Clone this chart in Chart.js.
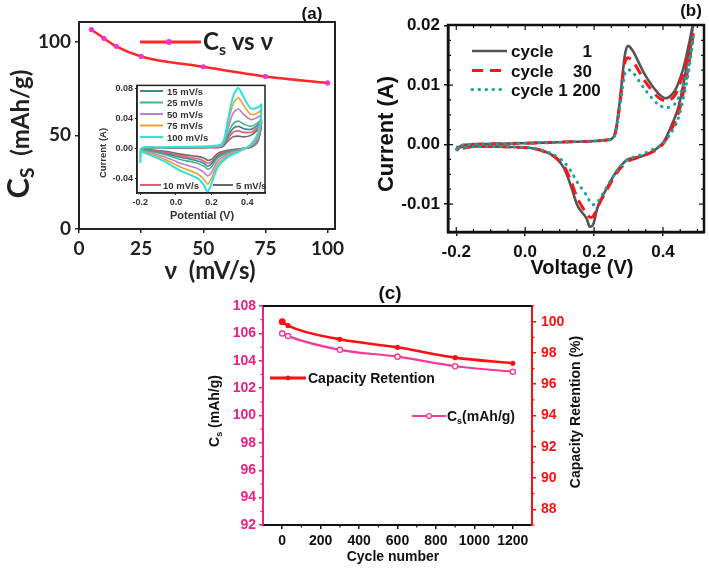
<!DOCTYPE html>
<html><head><meta charset="utf-8">
<script src="https://cdn.jsdelivr.net/npm/chart.js@4.4.1/dist/chart.umd.min.js"></script>
<style>
html,body{margin:0;padding:0;background:#fff;}
body{width:709px;height:569px;position:relative;overflow:hidden;}
canvas{position:absolute;display:block;}
</style></head><body>
<canvas id="ca" width="355" height="290" style="left:0;top:0"></canvas>
<canvas id="cb" width="354" height="290" style="left:355px;top:0"></canvas>
<canvas id="cc" width="509" height="289" style="left:200px;top:280px"></canvas>
<canvas id="ci" width="180" height="150" style="left:90px;top:78px"></canvas>
<script>
// ---------- Panel (a): specific capacity vs scan rate ----------
const scanRates = [5, 10, 15, 25, 50, 75, 100];
const capacityVsRate = [106.4, 101.8, 97.5, 92.1, 86.6, 81.4, 78.0];
const rateTicks = [0, 25, 50, 75, 100];
const capTicks = [0, 50, 100];

// ---------- Inset: CV at several scan rates ----------
const insetPotential = [-0.2, -0.19, -0.1, 0.0, 0.1, 0.2, 0.26, 0.29, 0.32, 0.35, 0.38, 0.42, 0.46, 0.48, 0.46, 0.42, 0.36, 0.29, 0.235, 0.2, 0.178, 0.156, 0.12, 0.025, -0.07, -0.2];
const insetI100 = [-0.020, 0.000, 0.001, 0.0015, 0.002, 0.003, 0.006, 0.035, 0.068, 0.080, 0.068, 0.053, 0.054, 0.058, 0.020, 0.005, -0.004, -0.012, -0.025, -0.047, -0.058, -0.049, -0.040, -0.030, -0.017, -0.004];
const insetI75 = [-0.016, 0.000, 0.001, 0.0012, 0.0015, 0.0025, 0.005, 0.030, 0.058, 0.067, 0.057, 0.045, 0.047, 0.051, 0.017, 0.004, -0.003, -0.010, -0.021, -0.040, -0.048, -0.041, -0.034, -0.025, -0.014, -0.003];
const insetI50 = [-0.012, 0.000, 0.0008, 0.001, 0.0012, 0.002, 0.004, 0.024, 0.046, 0.052, 0.045, 0.038, 0.041, 0.045, 0.014, 0.003, -0.002, -0.008, -0.017, -0.032, -0.037, -0.032, -0.027, -0.020, -0.011, -0.003];
const insetI25 = [-0.008, 0.000, 0.0006, 0.0008, 0.001, 0.0015, 0.003, 0.018, 0.032, 0.036, 0.032, 0.029, 0.034, 0.039, 0.012, 0.002, -0.002, -0.006, -0.013, -0.025, -0.028, -0.024, -0.020, -0.015, -0.008, -0.002];
const insetI15 = [-0.006, 0.000, 0.0005, 0.0006, 0.0008, 0.0012, 0.0025, 0.015, 0.026, 0.029, 0.026, 0.025, 0.031, 0.037, 0.011, 0.002, -0.001, -0.005, -0.011, -0.021, -0.024, -0.020, -0.017, -0.012, -0.007, -0.002];
const insetI10 = [-0.004, 0.000, 0.0004, 0.0005, 0.0006, 0.001, 0.002, 0.012, 0.021, 0.023, 0.021, 0.021, 0.028, 0.035, 0.010, 0.001, -0.001, -0.004, -0.009, -0.018, -0.020, -0.017, -0.014, -0.010, -0.005, -0.001];
const insetI5 = [-0.003, 0.000, 0.0003, 0.0004, 0.0005, 0.0008, 0.0015, 0.009, 0.015, 0.016, 0.015, 0.017, 0.025, 0.033, 0.009, 0.001, -0.001, -0.003, -0.007, -0.015, -0.016, -0.013, -0.011, -0.008, -0.004, -0.001];
const insetPotTicks = [-0.2, 0.0, 0.2, 0.4];
const insetCurTicks = [-0.04, 0.0, 0.04, 0.08];

// ---------- Panel (b): CV cycling ----------
const cvVoltage = [-0.2, -0.18, -0.04, 0.1, 0.245, 0.26, 0.274, 0.289, 0.298, 0.313, 0.347, 0.385, 0.41, 0.434, 0.458, 0.475, 0.488,
  0.475, 0.458, 0.443, 0.424, 0.4, 0.371, 0.337, 0.298, 0.269, 0.24, 0.211, 0.197, 0.187, 0.178, 0.153, 0.133, 0.11, 0.076, 0.027, -0.04, -0.137, -0.2];
const cycle1Current = [-0.001, -0.0001, 0.00017, 0.0004, 0.0008, 0.0017, 0.007, 0.0149, 0.0166, 0.0157, 0.0118, 0.0087, 0.0078, 0.009, 0.0126, 0.0168, 0.0205,
  0.0155, 0.0098, 0.0059, 0.0031, 0.0003, -0.0011, -0.002, -0.0025, -0.0042, -0.007, -0.0104, -0.0135, -0.0138, -0.0124, -0.0104, -0.007, -0.0037, -0.0017, -0.0007, -0.0004, -0.0003, -0.0004];
const cycle30Current = [-0.001, -0.0001, 0.00017, 0.0004, 0.0008, 0.0016, 0.0065, 0.0138, 0.0146, 0.014, 0.0107, 0.008, 0.0073, 0.0082, 0.0118, 0.0152, 0.0188,
  0.0135, 0.0085, 0.005, 0.0025, 0.0001, -0.0012, -0.002, -0.0028, -0.0045, -0.0073, -0.0104, -0.0121, -0.0122, -0.0116, -0.0092, -0.0062, -0.0034, -0.0017, -0.0007, -0.0004, -0.0003, -0.0008];
const cycle1200Current = [-0.0008, -0.0001, 0.00017, 0.0004, 0.0008, 0.0015, 0.006, 0.0118, 0.0126, 0.0121, 0.0093, 0.0068, 0.0062, 0.0068, 0.0098, 0.0135, 0.0182,
  0.0125, 0.0075, 0.0042, 0.002, 0.0002, -0.0008, -0.0017, -0.0025, -0.0042, -0.0068, -0.0096, -0.0101, -0.0095, -0.0085, -0.0065, -0.0045, -0.0028, -0.0015, -0.0006, -0.0004, -0.0003, -0.0006];
const voltTicks = [-0.2, 0.0, 0.2, 0.4];
const currentTicks = [-0.01, 0.0, 0.01, 0.02];

// ---------- Panel (c): cycling stability ----------
const cycleNumbers = [0, 30, 300, 600, 900, 1200];
const specificCapacity = [106.0, 105.8, 104.8, 104.3, 103.6, 103.2];
const capacityRetention = [100.0, 99.75, 98.87, 98.36, 97.7, 97.34];
const cycleTicks = [0, 200, 400, 600, 800, 1000, 1200];
const csTicks = [92, 94, 96, 98, 100, 102, 104, 106, 108];
const retentionTicks = [88, 90, 92, 94, 96, 98, 100];

// ---------- helpers ----------
const pts = (xs, ys) => xs.map((x, i) => ({x: x, y: ys[i]}));
const setTicks = arr => (s => { s.ticks = arr.map(v => ({value: v})); });

function rich(ctx, x, y, parts, o) {
  o = o || {};
  ctx.save();
  ctx.translate(x, y);
  if (o.rotate) ctx.rotate(o.rotate);
  ctx.fillStyle = o.color || '#000';
  ctx.textBaseline = 'alphabetic';
  ctx.textAlign = 'left';
  let total = 0;
  parts.forEach(p => { ctx.font = p.f; p.w = ctx.measureText(p.t).width; total += p.w; });
  let cx = o.align === 'center' ? -total / 2 : (o.align === 'right' ? -total : 0);
  parts.forEach(p => { ctx.font = p.f; ctx.fillText(p.t, cx, p.dy || 0); cx += p.w; });
  ctx.restore();
}
function line(ctx, x1, y1, x2, y2, color, w, dash, cap) {
  ctx.save(); ctx.strokeStyle = color; ctx.lineWidth = w; ctx.setLineDash(dash || []);
  ctx.lineCap = cap || 'butt';
  ctx.beginPath(); ctx.moveTo(x1, y1); ctx.lineTo(x2, y2); ctx.stroke(); ctx.restore();
}
function dot(ctx, x, y, r, fill, stroke, w) {
  ctx.save(); ctx.beginPath(); ctx.arc(x, y, r, 0, Math.PI * 2);
  ctx.fillStyle = fill; ctx.fill();
  if (stroke) { ctx.strokeStyle = stroke; ctx.lineWidth = w || 1; ctx.stroke(); }
  ctx.restore();
}
const frame = (color, w) => ({
  id: 'frame',
  afterDraw(chart) {
    const a = chart.chartArea, ctx = chart.ctx;
    ctx.save(); ctx.strokeStyle = color; ctx.lineWidth = w;
    ctx.strokeRect(a.left, a.top, a.right - a.left, a.bottom - a.top);
    ctx.restore();
  }
});
const base = {responsive: false, animation: false, events: [], plugins: {legend: {display: false}, tooltip: {enabled: false}}};

// ================= Panel (a) =================
const LATO = 'Lato, "Open Sans", sans-serif';
const ARIAL = '"Liberation Sans", Arial, sans-serif';
new Chart(document.getElementById('ca'), {
  type: 'line',
  data: {datasets: [{
    data: pts(scanRates, capacityVsRate),
    borderColor: '#ff2828', borderWidth: 2.5,
    pointRadius: 2.6, pointBackgroundColor: '#ff33cc', pointBorderColor: '#ff33cc', pointBorderWidth: 0,
    cubicInterpolationMode: 'monotone'
  }]},
  options: Object.assign({}, base, {
    layout: {padding: {top: 22, right: 20, left: 0, bottom: 0}},
    scales: {
      x: {type: 'linear', min: 0, max: 103, afterBuildTicks: setTicks(rateTicks), afterFit: s => { s.height = 61; },
        grid: {drawOnChartArea: false, tickLength: 4, color: '#222', lineWidth: 1.5},
        border: {display: true, color: '#222', width: 2},
        ticks: {font: {family: LATO, size: 19, weight: 'bold'}, color: '#222', padding: 4, maxRotation: 0}},
      y: {type: 'linear', min: 0, max: 110.5, afterBuildTicks: setTicks(capTicks), afterFit: s => { s.width = 79; },
        grid: {drawOnChartArea: false, tickLength: 4, color: '#222', lineWidth: 1.5},
        border: {display: true, color: '#222', width: 2},
        ticks: {font: {family: LATO, size: 19, weight: 'bold'}, color: '#222', padding: 4}}
    }
  }),
  plugins: [frame('#222', 2), {
    id: 'textsA',
    afterDraw(chart) {
      const ctx = chart.ctx;
      rich(ctx, 29, 134, [
        {t: 'C', f: 'bold 31px ' + LATO},
        {t: 'S', f: 'bold 19px ' + LATO, dy: 5},
        {t: '  (mAh/g)', f: 'bold 24px ' + LATO}
      ], {rotate: -Math.PI / 2, align: 'center', color: '#222'});
      rich(ctx, 210, 279, [{t: 'ν  (mV/s)', f: 'bold 24px ' + LATO}], {align: 'center', color: '#222'});
      line(ctx, 140, 42, 201, 42, '#ff2828', 3);
      dot(ctx, 169, 42, 3, '#ff33cc');
      rich(ctx, 203, 50, [
        {t: 'C', f: 'bold 24px ' + LATO},
        {t: 's', f: 'bold 16px ' + LATO, dy: 5},
        {t: ' vs ν', f: 'bold 24px ' + LATO}
      ], {color: '#222'});
      rich(ctx, 312, 19, [{t: '(a)', f: 'bold 17px ' + ARIAL}], {align: 'center', color: '#111'});
    }
  }]
});

// ================= Inset =================
const insetSeries = [
  {d: insetI100, c: '#2ee0e0', w: 2},
  {d: insetI75, c: '#e8a52a', w: 1.6},
  {d: insetI50, c: '#c07ad8', w: 1.6},
  {d: insetI25, c: '#3fb58f', w: 1.6},
  {d: insetI15, c: '#3a8a8c', w: 1.6},
  {d: insetI10, c: '#f2566e', w: 1.6},
  {d: insetI5, c: '#6a6a6a', w: 1.6}
];
new Chart(document.getElementById('ci'), {
  type: 'scatter',
  data: {datasets: insetSeries.map(s => ({
    data: pts(insetPotential, s.d), showLine: true, borderColor: s.c, borderWidth: s.w,
    pointRadius: 0, tension: 0.3
  }))},
  options: Object.assign({}, base, {
    layout: {padding: {top: 4, right: 5, left: 0, bottom: 0}},
    scales: {
      x: {type: 'linear', min: -0.2185, max: 0.5, afterBuildTicks: setTicks(insetPotTicks), afterFit: s => { s.height = 35; },
        grid: {drawOnChartArea: false, tickLength: 2, color: '#222'},
        border: {display: true, color: '#222', width: 1.5},
        ticks: {font: {family: ARIAL, size: 9, weight: 'bold'}, color: '#333', padding: 2, maxRotation: 0, callback: v => v.toFixed(1)}},
      y: {type: 'linear', min: -0.0597, max: 0.0835, afterBuildTicks: setTicks(insetCurTicks), afterFit: s => { s.width = 47; },
        grid: {drawOnChartArea: false, tickLength: 2, color: '#222'},
        border: {display: true, color: '#222', width: 1.5},
        ticks: {font: {family: ARIAL, size: 9, weight: 'bold'}, color: '#333', padding: 2, callback: v => v.toFixed(2)}}
    }
  }),
  plugins: [frame('#222', 1.5), {
    id: 'textsI',
    afterDraw(chart) {
      const ctx = chart.ctx;
      ctx.save(); ctx.translate(-90, -78);
      rich(ctx, 106, 153, [{t: 'Current (A)', f: 'bold 9.5px ' + ARIAL}], {rotate: -Math.PI / 2, align: 'center', color: '#333'});
      rich(ctx, 202, 219, [{t: 'Potential (V)', f: 'bold 11px ' + ARIAL}], {align: 'center', color: '#333'});
      const rows = [[91, '15 mV/s', '#3a8a8c'], [102.5, '25 mV/s', '#3fb58f'], [114, '50 mV/s', '#c07ad8'], [125.5, '75 mV/s', '#e8a52a'], [137, '100 mV/s', '#2ee0e0']];
      rows.forEach(r => {
        line(ctx, 140, r[0], 163, r[0], r[2], 2);
        rich(ctx, 167, r[0] + 3.5, [{t: r[1], f: 'bold 9.5px ' + ARIAL}], {color: '#333'});
      });
      line(ctx, 140, 185, 161, 185, '#f2566e', 2);
      rich(ctx, 163, 188.5, [{t: '10 mV/s', f: 'bold 9.5px ' + ARIAL}], {color: '#333'});
      line(ctx, 213, 185, 233, 185, '#6a6a6a', 2);
      rich(ctx, 236, 188.5, [{t: '5 mV/s', f: 'bold 9.5px ' + ARIAL}], {color: '#333'});
      ctx.restore();
    }
  }]
});

// ================= Panel (b) =================
new Chart(document.getElementById('cb'), {
  type: 'scatter',
  data: {datasets: [
    {data: pts(cvVoltage, cycle1200Current), showLine: true, borderColor: '#17a3a3', borderWidth: 3, borderDash: [0.5, 6.5], borderCapStyle: 'round', pointRadius: 0, tension: 0.3},
    {data: pts(cvVoltage, cycle30Current), showLine: true, borderColor: '#ff1414', borderWidth: 3, borderDash: [11, 7], pointRadius: 0, tension: 0.3},
    {data: pts(cvVoltage, cycle1Current), showLine: true, borderColor: '#555555', borderWidth: 2.6, pointRadius: 0, tension: 0.3}
  ]},
  options: Object.assign({}, base, {
    layout: {padding: {top: 25, right: 5, left: 0, bottom: 0}},
    scales: {
      x: {type: 'linear', min: -0.224, max: 0.519, afterBuildTicks: setTicks(voltTicks), afterFit: s => { s.height = 58; },
        grid: {drawOnChartArea: false, tickLength: 4, color: '#111', lineWidth: 1.5},
        border: {display: true, color: '#111', width: 2.5},
        ticks: {font: {family: ARIAL, size: 17, weight: 'bold'}, color: '#111', padding: 6, maxRotation: 0, callback: v => v.toFixed(1)}},
      y: {type: 'linear', min: -0.0147, max: 0.0201, afterBuildTicks: setTicks(currentTicks), afterFit: s => { s.width = 93; },
        grid: {drawOnChartArea: false, tickLength: 4, color: '#111', lineWidth: 1.5},
        border: {display: true, color: '#111', width: 2.5},
        ticks: {font: {family: ARIAL, size: 17, weight: 'bold'}, color: '#111', padding: 4, callback: v => v.toFixed(2)}}
    }
  }),
  plugins: [frame('#111', 2.5), {
    id: 'textsB',
    afterDraw(chart) {
      const ctx = chart.ctx, a = chart.chartArea, sx = chart.scales.x, sy = chart.scales.y;
      ctx.save(); ctx.strokeStyle = '#111'; ctx.lineWidth = 1.2; ctx.beginPath();
      for (let k = -4; k <= 10; k++) {
        const v = k * 0.05, px = sx.getPixelForValue(v);
        if (px <= a.left + 1 || px >= a.right - 1) continue;
        const L = (k % 4 === 0) ? 5 : 3;
        ctx.moveTo(px, a.bottom); ctx.lineTo(px, a.bottom - L);
        ctx.moveTo(px, a.top); ctx.lineTo(px, a.top + L);
      }
      for (let k = -5; k <= 8; k++) {
        const v = k * 0.0025, py = sy.getPixelForValue(v);
        if (py <= a.top + 1 || py >= a.bottom - 1) continue;
        const L = (k % 4 === 0) ? 5 : 3;
        ctx.moveTo(a.left, py); ctx.lineTo(a.left + L, py);
        ctx.moveTo(a.right, py); ctx.lineTo(a.right - L, py);
      }
      ctx.stroke(); ctx.restore();
      ctx.save(); ctx.translate(-355, 0);
      rich(ctx, 393, 134, [{t: 'Current (A)', f: 'bold 22px ' + ARIAL}], {rotate: -Math.PI / 2, align: 'center', color: '#111'});
      rich(ctx, 582, 274, [{t: 'Voltage (V)', f: 'bold 20px ' + ARIAL}], {align: 'center', color: '#111'});
      rich(ctx, 691, 16, [{t: '(b)', f: 'bold 17px ' + ARIAL}], {align: 'center', color: '#111'});
      line(ctx, 472, 51, 507, 51, '#555555', 2.6);
      line(ctx, 472, 70.5, 507, 70.5, '#ff1414', 3, [11, 7]);
      line(ctx, 472, 89.5, 507, 89.5, '#17a3a3', 3, [0.5, 6.5], 'round');
      const lf = 'bold 17px ' + ARIAL;
      rich(ctx, 511, 57, [{t: 'cycle', f: lf}], {color: '#111'});
      rich(ctx, 592, 57, [{t: '1', f: lf}], {align: 'right', color: '#111'});
      rich(ctx, 511, 76.5, [{t: 'cycle', f: lf}], {color: '#111'});
      rich(ctx, 592, 76.5, [{t: '30', f: lf}], {align: 'right', color: '#111'});
      rich(ctx, 511, 95.5, [{t: 'cycle 1 200', f: lf}], {color: '#111'});
      ctx.restore();
    }
  }]
});

// ================= Panel (c) =================
const PINK = '#ee1f87', PINKLINE = '#f7399a', RED = '#ff1010';
new Chart(document.getElementById('cc'), {
  type: 'line',
  data: {datasets: [
    {data: pts(cycleNumbers, capacityRetention), yAxisID: 'y2', borderColor: RED, borderWidth: 2.6,
      pointRadius: [3.4, 2.6, 2.6, 2.6, 2.6, 2.6], pointBackgroundColor: RED, pointBorderColor: RED, pointBorderWidth: 0, cubicInterpolationMode: 'monotone'},
    {data: pts(cycleNumbers, specificCapacity), yAxisID: 'y', borderColor: PINKLINE, borderWidth: 2.2,
      pointRadius: 2.6, pointBackgroundColor: '#fff', pointBorderColor: PINKLINE, pointBorderWidth: 1.4, cubicInterpolationMode: 'monotone'}
  ]},
  options: Object.assign({}, base, {
    layout: {padding: {top: 26, right: 137, left: 0, bottom: 0}},
    scales: {
      x: {type: 'linear', min: -100, max: 1300, afterBuildTicks: setTicks(cycleTicks), afterFit: s => { s.height = 44; },
        grid: {drawOnChartArea: false, tickLength: 4, color: '#111', lineWidth: 1.5},
        border: {display: true, color: '#111', width: 2},
        ticks: {font: {family: ARIAL, size: 14, weight: 'bold'}, color: '#111', padding: 4, maxRotation: 0, callback: v => String(v)}},
      y: {type: 'linear', position: 'left', min: 92, max: 108, afterBuildTicks: setTicks(csTicks), afterFit: s => { s.width = 63; },
        grid: {drawOnChartArea: false, tickLength: 4, color: PINK, lineWidth: 1.5},
        border: {display: true, color: PINK, width: 2},
        ticks: {font: {family: ARIAL, size: 14, weight: 'bold'}, color: PINK, padding: 3, callback: v => String(v)}},
      y2: {type: 'linear', position: 'right', min: 87, max: 101, afterBuildTicks: setTicks(retentionTicks), afterFit: s => { s.width = 40; },
        grid: {drawOnChartArea: false, tickLength: 4, color: RED, lineWidth: 1.5},
        border: {display: true, color: RED, width: 2},
        ticks: {font: {family: ARIAL, size: 14, weight: 'bold'}, color: RED, padding: 5, callback: v => String(v)}}
    }
  }),
  plugins: [{
    id: 'textsC',
    afterDraw(chart) {
      const ctx = chart.ctx, a = chart.chartArea;
      line(ctx, a.left, a.top, a.right, a.top, '#111', 2);
      ctx.save(); ctx.lineWidth = 1.2;
      ctx.strokeStyle = PINK; ctx.beginPath();
      for (let v = 93; v < 108; v += 2) { const py = chart.scales.y.getPixelForValue(v); ctx.moveTo(a.left, py); ctx.lineTo(a.left - 2.5, py); }
      ctx.stroke();
      ctx.strokeStyle = RED; ctx.beginPath();
      for (let v = 87; v <= 101; v += 2) { const py = chart.scales.y2.getPixelForValue(v); ctx.moveTo(a.right, py); ctx.lineTo(a.right + 2.5, py); }
      ctx.stroke();
      ctx.strokeStyle = '#111'; ctx.beginPath();
      for (let v = 100; v < 1300; v += 200) { const px = chart.scales.x.getPixelForValue(v); ctx.moveTo(px, a.bottom); ctx.lineTo(px, a.bottom + 2.5); }
      ctx.stroke();
      ctx.restore();
      ctx.save(); ctx.translate(-200, -280);
      rich(ctx, 390, 299, [{t: '(c)', f: 'bold 19px ' + ARIAL}], {align: 'center', color: '#111'});
      rich(ctx, 393, 561, [{t: 'Cycle number', f: 'bold 14px ' + ARIAL}], {align: 'center', color: '#111'});
      rich(ctx, 219, 411, [
        {t: 'C', f: 'bold 14px ' + ARIAL}, {t: 's', f: 'bold 9px ' + ARIAL, dy: 3}, {t: ' (mAh/g)', f: 'bold 14px ' + ARIAL}
      ], {rotate: -Math.PI / 2, align: 'center', color: '#111'});
      rich(ctx, 580, 412, [{t: 'Capacity Retention (%)', f: 'bold 14px ' + ARIAL}], {rotate: -Math.PI / 2, align: 'center', color: '#111'});
      line(ctx, 270, 378, 306, 378, RED, 3);
      dot(ctx, 288, 378, 2.4, RED);
      rich(ctx, 308, 383, [{t: 'Capacity Retention', f: 'bold 14px ' + ARIAL}], {color: '#111'});
      line(ctx, 412, 416, 446, 416, PINKLINE, 2.2);
      dot(ctx, 429, 416, 2.4, '#fff', PINKLINE, 1.4);
      rich(ctx, 447, 421, [
        {t: 'C', f: 'bold 14px ' + ARIAL}, {t: 's', f: 'bold 9px ' + ARIAL, dy: 3}, {t: '(mAh/g)', f: 'bold 14px ' + ARIAL}
      ], {color: '#111'});
      ctx.restore();
    }
  }]
});
</script>
</body></html>
